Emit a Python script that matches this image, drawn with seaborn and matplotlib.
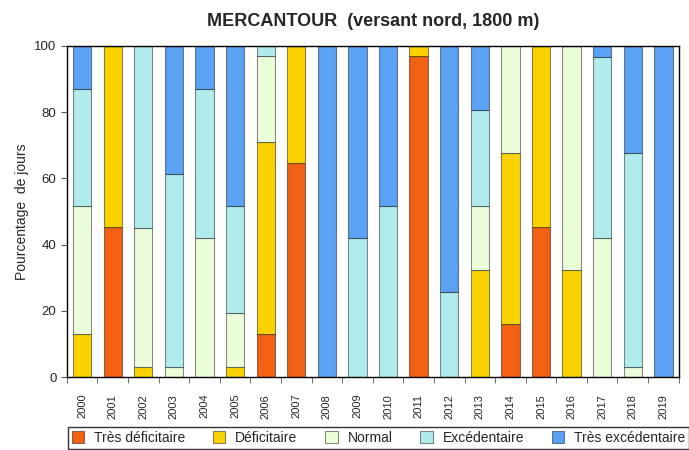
import numpy as np
import pandas as pd
import matplotlib
matplotlib.use('Agg')
import matplotlib.pyplot as plt
import seaborn as sns

# Data: percentage of days per class, per year
years = [str(y) for y in range(2000, 2020)]
categories = ['Très déficitaire', 'Déficitaire', 'Normal', 'Excédentaire', 'Très excédentaire']
tres_deficitaire = [0, 45.2, 0, 0, 0, 0, 12.9, 64.5, 0, 0, 0, 96.8, 0, 0, 16.1, 45.2, 0, 0, 0, 0]
deficitaire = [12.9, 54.8, 3.2, 0, 0, 3.2, 58.1, 35.5, 0, 0, 0, 3.2, 0, 32.3, 51.6, 54.8, 32.3, 0, 0, 0]
normal = [38.7, 0, 41.9, 3.2, 41.9, 16.1, 25.8, 0, 0, 0, 0, 0, 0, 19.4, 32.3, 0, 67.7, 41.9, 3.2, 0]
excedentaire = [35.5, 0, 54.8, 58.1, 45.2, 32.3, 3.2, 0, 0, 41.9, 51.6, 0, 25.8, 29.0, 0, 0, 0, 54.8, 64.5, 0]
tres_excedentaire = [12.9, 0, 0, 38.7, 12.9, 48.4, 0, 0, 100, 58.1, 48.4, 0, 74.2, 19.4, 0, 0, 0, 3.2, 32.3, 100]
colors = ['#f26114', '#fad200', '#ebfdd9', '#b0ecec', '#5ba2f4']

series = [tres_deficitaire, deficitaire, normal, excedentaire, tres_excedentaire]

sns.set_style('white')
plt.rcParams['font.family'] = ['Liberation Sans', 'DejaVu Sans']

fig = plt.figure(figsize=(6.89, 4.5), dpi=100)
ax = fig.add_axes([0.097, 0.162, 0.888, 0.736])

bottom = np.zeros(len(years))
for name, vals, col in zip(categories, series, colors):
    df = pd.DataFrame({'annee': years, 'pct': vals})
    sns.barplot(data=df, x='annee', y='pct', bottom=bottom, color=col, width=0.6,
                edgecolor=(0, 0, 0, 0.45), linewidth=0.8, saturation=1, ax=ax, label=name)
    bottom = bottom + np.array(vals)

ax.set_xlim(-0.5, len(years) - 0.5)
ax.set_ylim(0, 100)
ax.set_yticks(range(0, 101, 20))
ax.set_xlabel('')
ax.set_ylabel('Pourcentage  de jours', fontsize=10)
ax.set_xticks(range(len(years)))
ax.set_xticklabels(years, rotation=90, fontsize=8)
ax.set_xticks(np.arange(-0.5, len(years)), minor=True)
ax.tick_params(axis='x', which='major', length=0, pad=12)
ax.tick_params(axis='x', which='minor', length=4, direction='out', bottom=True, color='#555555')
ax.tick_params(axis='y', length=4, direction='out', left=True, labelsize=9.5, color='#555555')
for sp in ax.spines.values():
    sp.set_color('black')
    sp.set_linewidth(1)

ax.set_title('MERCANTOUR  (versant nord, 1800 m)', fontsize=13, fontweight='bold', pad=14)

handles, labels = ax.get_legend_handles_labels()
if ax.get_legend() is not None:
    ax.get_legend().remove()
fig.legend(handles, labels, loc='upper left', bbox_to_anchor=(0.098, 0.052), ncol=5,
           frameon=True, fancybox=False, edgecolor='black', fontsize=10,
           handlelength=0.9, handleheight=0.9, columnspacing=2.0, handletextpad=0.7,
           borderaxespad=0, borderpad=0.3)

plt.savefig('out.png', dpi=100)
plt.close()
